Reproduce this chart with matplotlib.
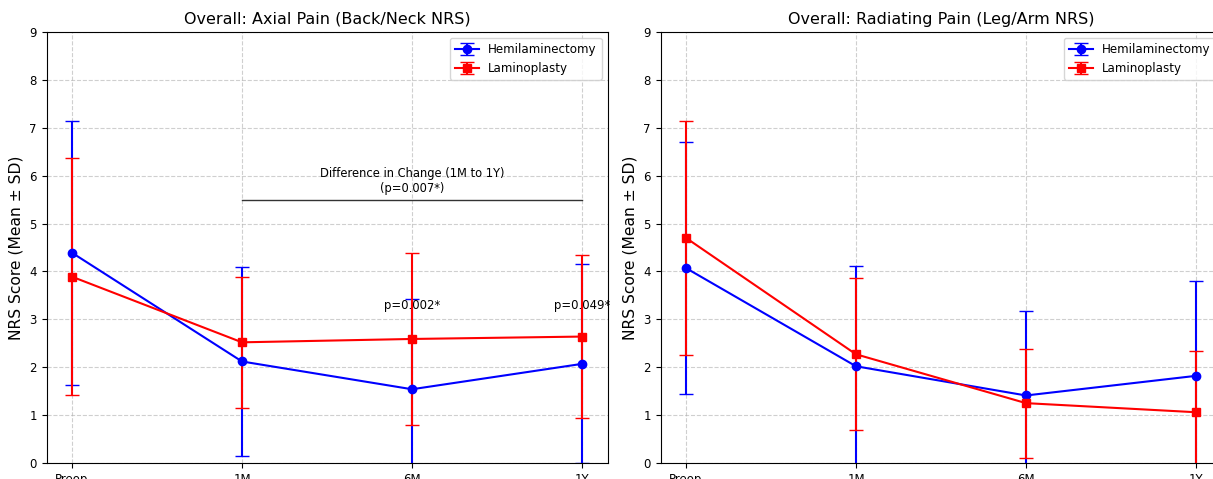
import numpy as np
import matplotlib.pyplot as plt

timepoints = ["Preop", "1M", "6M", "1Y"]

# axial pain (back/neck NRS)
axial_hemi_mean = [4.39, 2.12, 1.54, 2.07]
axial_hemi_sd = [2.76, 1.98, 1.89, 2.08]
axial_lamino_mean = [3.89, 2.52, 2.59, 2.64]
axial_lamino_sd = [2.47, 1.37, 1.79, 1.70]

# radiating pain (leg/arm NRS)
rad_hemi_mean = [4.07, 2.02, 1.41, 1.82]
rad_hemi_sd = [2.63, 2.10, 1.77, 1.98]
rad_lamino_mean = [4.70, 2.27, 1.25, 1.06]
rad_lamino_sd = [2.44, 1.59, 1.14, 1.27]

W, H = 1213, 479
fig = plt.figure(figsize=(W / 100, H / 100), dpi=100)

def px_axes(x0, x1, y_top, y_bot):
    return fig.add_axes([x0 / W, (H - y_bot) / H, (x1 - x0) / W, (y_bot - y_top) / H])

ax1 = px_axes(46.5, 607.5, 32, 463)
ax2 = px_axes(660.5, 1221.5, 32, 463)

x = np.arange(len(timepoints))

def draw(ax, hm, hs, lm, ls, title):
    ax.errorbar(x, hm, yerr=hs, color="blue", marker="o", markersize=6,
                capsize=5, linewidth=1.5, label="Hemilaminectomy")
    ax.errorbar(x, lm, yerr=ls, color="red", marker="s", markersize=6,
                capsize=5, linewidth=1.5, label="Laminoplasty")
    ax.set_ylim(0, 9)
    ax.set_xticks(x)
    ax.set_xticklabels(timepoints)
    ax.set_title(title, fontsize=11.5)
    ax.set_ylabel("NRS Score (Mean ± SD)", fontsize=11.2)
    ax.tick_params(labelsize=8.5)
    ax.grid(True, linestyle="--", alpha=0.6)
    ax.legend(loc="upper right", fontsize=8.6)

draw(ax1, axial_hemi_mean, axial_hemi_sd, axial_lamino_mean, axial_lamino_sd,
     "Overall: Axial Pain (Back/Neck NRS)")
draw(ax2, rad_hemi_mean, rad_hemi_sd, rad_lamino_mean, rad_lamino_sd,
     "Overall: Radiating Pain (Leg/Arm NRS)")

# significance annotations
ax1.plot([1, 3], [5.5, 5.5], color="#333333", linewidth=1)
ax1.text(2, 5.6, "Difference in Change (1M to 1Y)\n(p=0.007*)", ha="center",
         va="bottom", fontsize=8.3)
ax1.text(2, 3.15, "p=0.002*", ha="center", va="bottom", fontsize=8.4)
ax1.text(3, 3.15, "p=0.049*", ha="center", va="bottom", fontsize=8.4)

fig.savefig("out.png", dpi=100)
